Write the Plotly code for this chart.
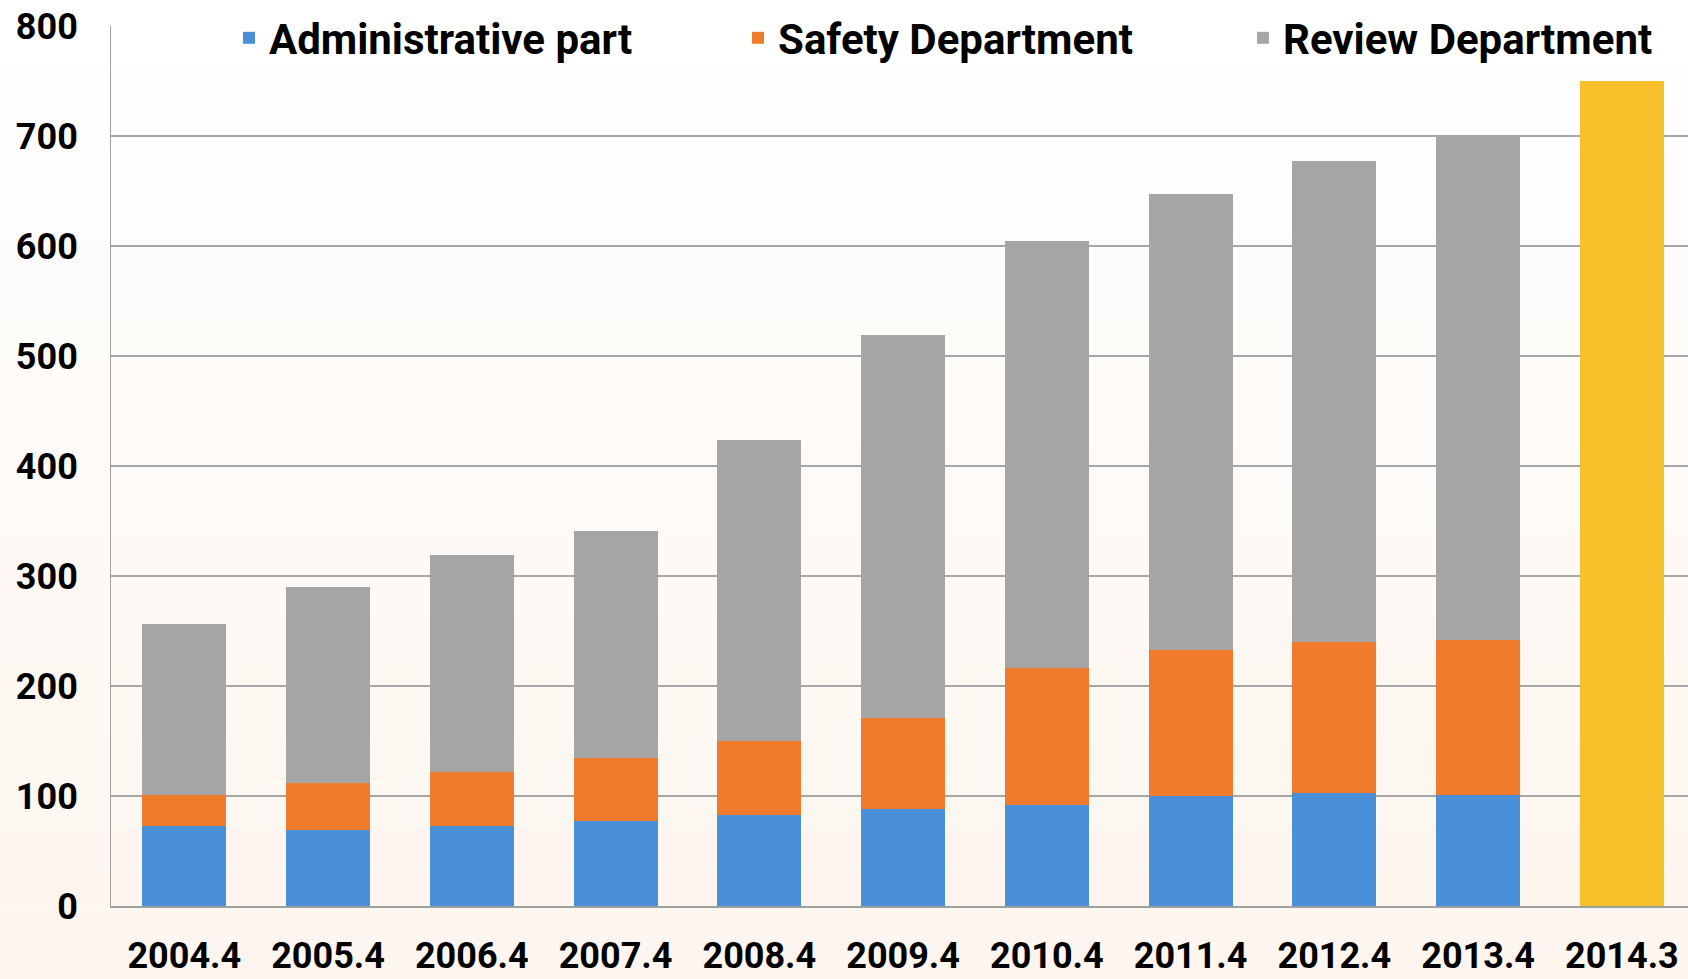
import plotly.graph_objects as go

categories = ["2004.4", "2005.4", "2006.4", "2007.4", "2008.4",
              "2009.4", "2010.4", "2011.4", "2012.4", "2013.4"]
admin = [73, 69, 73, 77, 83, 88, 92, 100, 103, 101]
safety = [28, 43, 49, 58, 67, 83, 124, 133, 137, 141]
review = [155, 178, 197, 206, 274, 348, 389, 414, 437, 458]
last_category = ["2014.3"]
last_total = [750]
y_ticks = [0, 100, 200, 300, 400, 500, 600, 700, 800]

FONT = "Roboto"

fig = go.Figure()
fig.add_trace(go.Bar(name="Administrative part", x=categories, y=admin, legend="legend",
                     marker=dict(color="#4a8fd8", line=dict(width=0))))
fig.add_trace(go.Bar(name="Safety Department", x=categories, y=safety, legend="legend2",
                     marker=dict(color="#f07b2c", line=dict(width=0))))
fig.add_trace(go.Bar(name="Review Department", x=categories, y=review, legend="legend3",
                     marker=dict(color="#a5a5a5", line=dict(width=0))))
fig.add_trace(go.Bar(name="2014.3", x=last_category, y=last_total, showlegend=False,
                     marker=dict(color="#f6c12a", line=dict(width=0))))

# soft white-to-cream background (decoration only)
bands = 24
top_rgb = (255, 255, 255)
bot_rgb = (253, 245, 238)
shapes = []
for i in range(bands):
    t = i / (bands - 1)
    c = tuple(round(top_rgb[k] + (bot_rgb[k] - top_rgb[k]) * t) for k in range(3))
    shapes.append(dict(type="rect", xref="paper", yref="paper", layer="below",
                       x0=-0.1, x1=1.1,
                       y0=1.05 - (i + 1) * 1.15 / bands, y1=1.05 - i * 1.15 / bands,
                       fillcolor="rgb(%d,%d,%d)" % c, line=dict(width=0)))

leg_common = dict(orientation="h", xanchor="left", y=1.025, yanchor="top",
                  bgcolor="rgba(0,0,0,0)",
                  font=dict(family=FONT, size=42, weight="bold"))

fig.update_layout(
    width=1688, height=979,
    barmode="stack", bargap=0.416,
    paper_bgcolor="#ffffff", plot_bgcolor="rgba(0,0,0,0)",
    margin=dict(l=111, r=0, t=26, b=73, autoexpand=False),
    font=dict(family=FONT, color="#000000"),
    shapes=shapes,
    legend=dict(x=0.0748, **leg_common),
    legend2=dict(x=0.3976, **leg_common),
    legend3=dict(x=0.7178, **leg_common),
    xaxis=dict(categoryorder="array", categoryarray=categories + last_category,
               range=[-0.51, 10.46], showline=True, linecolor="#a0a0a0", linewidth=2,
               showgrid=False, ticks="", ticklabelstandoff=17, automargin=False,
               tickfont=dict(family=FONT, size=36, weight="bold")),
    yaxis=dict(range=[0, 800], tickvals=y_ticks, showline=True, linecolor="#a0a0a0",
               linewidth=1, showgrid=True, gridcolor="#a6a6a6", gridwidth=2,
               zeroline=False, ticks="", ticklabelstandoff=25, automargin=False,
               tickfont=dict(family=FONT, size=36, weight="bold")),
)

fig.write_html("out.html")
